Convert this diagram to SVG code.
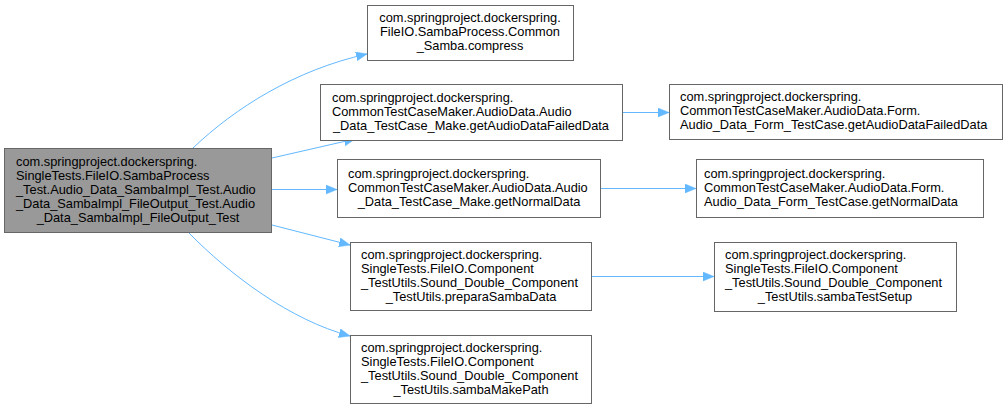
<svg xmlns="http://www.w3.org/2000/svg" width="1007" height="410" viewBox="0 0 1007 410">
<style>
  .box { fill: #ffffff; stroke: #666666; stroke-width: 1; }
  .main { fill: #999999; stroke: #666666; stroke-width: 1; }
  text { font-family: "Liberation Sans", Arial, sans-serif; font-size: 12.8px; fill: #000000; }
  .c { text-anchor: middle; }
  .edge { fill: none; stroke: #63b8ff; stroke-width: 1; }
</style>
<defs>
  <marker id="arrow" markerUnits="userSpaceOnUse" markerWidth="13" markerHeight="10" refX="11" refY="4.5" orient="auto">
    <path d="M0,0 L11,4.5 L0,9 z" fill="#63b8ff" stroke="#63b8ff" stroke-width="0.5"/>
  </marker>
</defs>
<rect width="1007" height="410" fill="#ffffff"/>

<g id="edges">
  <path class="edge" marker-end="url(#arrow)" d="M193,148 C235,108 295,70 367,54"/>
  <path class="edge" marker-end="url(#arrow)" d="M272,158 L355,139"/>
  <path class="edge" marker-end="url(#arrow)" d="M272,189.5 L337,189.5"/>
  <path class="edge" marker-end="url(#arrow)" d="M272,225 L350,245"/>
  <path class="edge" marker-end="url(#arrow)" d="M188,232 C230,275 290,320 350,336"/>
  <path class="edge" marker-end="url(#arrow)" d="M622,112.5 L669,112.5"/>
  <path class="edge" marker-end="url(#arrow)" d="M600,188.5 L696,188.5"/>
  <path class="edge" marker-end="url(#arrow)" d="M591,276.5 L714,276.5"/>
</g>

<g id="node-main">
  <rect class="main" x="4.5" y="148.5" width="267" height="84"/>
  <text x="16" y="166">com.springproject.dockerspring.</text>
  <text x="16" y="180">SingleTests.FileIO.SambaProcess</text>
  <text x="16" y="194">_Test.Audio_Data_SambaImpl_Test.Audio</text>
  <text x="16" y="208">_Data_SambaImpl_FileOutput_Test.Audio</text>
  <text class="c" x="138" y="222">_Data_SambaImpl_FileOutput_Test</text>
</g>

<g id="node-compress">
  <rect class="box" x="367.5" y="5.5" width="206" height="55"/>
  <text class="c" x="470" y="22">com.springproject.dockerspring.</text>
  <text class="c" x="470" y="36">FileIO.SambaProcess.Common</text>
  <text class="c" x="470" y="50">_Samba.compress</text>
</g>

<g id="node-failed">
  <rect class="box" x="320.5" y="84.5" width="302" height="56"/>
  <text x="332" y="101.5">com.springproject.dockerspring.</text>
  <text x="332" y="115.5">CommonTestCaseMaker.AudioData.Audio</text>
  <text class="c" x="471" y="129.5">_Data_TestCase_Make.getAudioDataFailedData</text>
</g>

<g id="node-normal">
  <rect class="box" x="337.5" y="159.5" width="263" height="58"/>
  <text x="348" y="177.5">com.springproject.dockerspring.</text>
  <text x="348" y="191.5">CommonTestCaseMaker.AudioData.Audio</text>
  <text class="c" x="469" y="205.5">_Data_TestCase_Make.getNormalData</text>
</g>

<g id="node-prepara">
  <rect class="box" x="350.5" y="242.5" width="241" height="68"/>
  <text x="361" y="258.5">com.springproject.dockerspring.</text>
  <text x="361" y="272.5">SingleTests.FileIO.Component</text>
  <text x="361" y="286.5">_TestUtils.Sound_Double_Component</text>
  <text class="c" x="471" y="300.5">_TestUtils.preparaSambaData</text>
</g>

<g id="node-makepath">
  <rect class="box" x="350.5" y="335.5" width="241" height="68"/>
  <text x="361" y="351.5">com.springproject.dockerspring.</text>
  <text x="361" y="365.5">SingleTests.FileIO.Component</text>
  <text x="361" y="379.5">_TestUtils.Sound_Double_Component</text>
  <text class="c" x="471" y="393.5">_TestUtils.sambaMakePath</text>
</g>

<g id="node-form-failed">
  <rect class="box" x="669.5" y="84.5" width="333" height="55"/>
  <text x="680" y="101">com.springproject.dockerspring.</text>
  <text x="680" y="115">CommonTestCaseMaker.AudioData.Form.</text>
  <text x="680" y="129">Audio_Data_Form_TestCase.getAudioDataFailedData</text>
</g>

<g id="node-form-normal">
  <rect class="box" x="696.5" y="159.5" width="287" height="58"/>
  <text x="704" y="177.5">com.springproject.dockerspring.</text>
  <text x="704" y="191.5">CommonTestCaseMaker.AudioData.Form.</text>
  <text x="704" y="205.5">Audio_Data_Form_TestCase.getNormalData</text>
</g>

<g id="node-testsetup">
  <rect class="box" x="714.5" y="242.5" width="242" height="69"/>
  <text x="725" y="259">com.springproject.dockerspring.</text>
  <text x="725" y="273">SingleTests.FileIO.Component</text>
  <text x="725" y="287">_TestUtils.Sound_Double_Component</text>
  <text class="c" x="835" y="301">_TestUtils.sambaTestSetup</text>
</g>
</svg>
